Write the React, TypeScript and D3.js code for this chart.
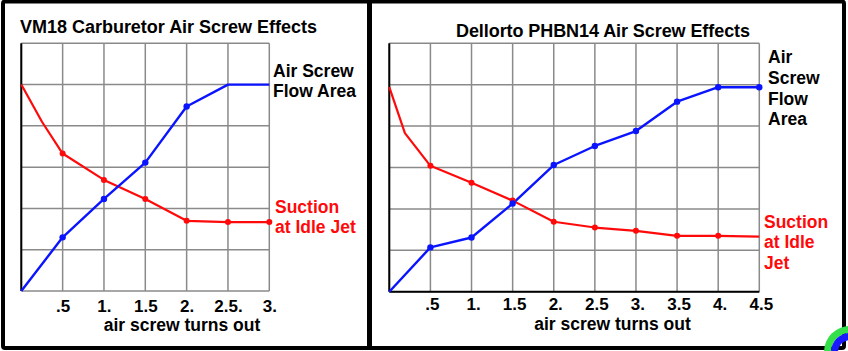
import React from "react";
import * as d3 from "d3";

// ---- Data ----
const leftFlowTurns = [0, 0.5, 1, 1.5, 2, 2.5, 3];
const leftFlowArea = [0, 1.3, 2.23, 3.11, 4.47, 5.0, 5.0];
const leftFlowDots = [0.5, 1, 1.5, 2];
const leftSuctionTurns = [0, 0.25, 0.5, 1, 1.5, 2, 2.5, 3];
const leftSuction = [5.0, 4.1, 3.33, 2.69, 2.23, 1.7, 1.67, 1.67];
const leftSuctionDots = [0.5, 1, 1.5, 2, 2.5, 3];
const leftTickValues = [0.5, 1, 1.5, 2, 2.5, 3];
const leftTickLabels = [".5", "1.", "1.5", "2.", "2.5.", "3."];

const rightFlowTurns = [0, 0.5, 1, 1.5, 2, 2.5, 3, 3.5, 4, 4.5];
const rightFlowArea = [0, 1.07, 1.31, 2.13, 3.06, 3.52, 3.88, 4.59, 4.94, 4.94];
const rightFlowDots = [0.5, 1, 1.5, 2, 2.5, 3, 3.5, 4, 4.5];
const rightSuctionTurns = [0, 0.19, 0.5, 1, 1.5, 2, 2.5, 3, 3.5, 4, 4.5];
const rightSuction = [4.94, 3.83, 3.04, 2.63, 2.2, 1.69, 1.55, 1.47, 1.35, 1.35, 1.33];
const rightSuctionDots = [0.5, 1, 1.5, 2, 2.5, 3, 3.5, 4];
const rightTickValues = [0.5, 1, 1.5, 2, 2.5, 3, 3.5, 4, 4.5];
const rightTickLabels = [".5", "1.", "1.5", "2.", "2.5", "3.", "3.5", "4.", "4.5"];

const FONT = "'Liberation Sans', Arial, sans-serif";
const GRID = "#8a8a8a";
const BLUE = "#0a14ff";
const RED = "#ff0a0a";

type PanelProps = {
  x0: number; x1: number; y0: number; y1: number; xMax: number;
  flowT: number[]; flowV: number[]; flowDots: number[];
  sucT: number[]; sucV: number[]; sucDots: number[];
  ticks: number[]; tickLabels: string[]; tickY: number; tickDx: number;
  blackBottom: boolean;
};

function Panel(p: PanelProps) {
  const x = d3.scaleLinear().domain([0, p.xMax]).range([p.x0, p.x1]);
  const y = d3.scaleLinear().domain([0, 6]).range([p.y0, p.y1]);
  const line = d3.line<[number, number]>().x((d) => x(d[0])).y((d) => y(d[1]));
  const flowPts = p.flowT.map((t, i) => [t, p.flowV[i]] as [number, number]);
  const sucPts = p.sucT.map((t, i) => [t, p.sucV[i]] as [number, number]);
  const valAt = (ts: number[], vs: number[], t: number) => vs[ts.indexOf(t)];
  const xGrid = d3.range(0, p.xMax + 0.001, 0.5);
  const yGrid = d3.range(0, 7, 1);
  return (
    <g>
      {xGrid.map((t) => (
        <line key={"vx" + t} x1={x(t)} x2={x(t)} y1={y(6)} y2={y(0)} stroke={GRID} strokeWidth={1.5} />
      ))}
      {yGrid.map((v) => (
        <line key={"hy" + v} x1={x(0)} x2={x(p.xMax)} y1={y(v)} y2={y(v)} stroke={GRID} strokeWidth={1.5} />
      ))}
      <line x1={x(0)} x2={x(0)} y1={y(6)} y2={y(0)} stroke="#000" strokeWidth={2} />
      {p.blackBottom && (
        <line x1={x(0)} x2={x(p.xMax)} y1={y(0)} y2={y(0)} stroke="#000" strokeWidth={2} />
      )}
      <path d={line(sucPts) || ""} fill="none" stroke={RED} strokeWidth={2.2} strokeLinejoin="round" />
      <path d={line(flowPts) || ""} fill="none" stroke={BLUE} strokeWidth={2.4} strokeLinejoin="round" />
      {p.sucDots.map((t) => (
        <circle key={"sd" + t} cx={x(t)} cy={y(valAt(p.sucT, p.sucV, t))} r={3} fill={RED} />
      ))}
      {p.flowDots.map((t) => (
        <circle key={"fd" + t} cx={x(t)} cy={y(valAt(p.flowT, p.flowV, t))} r={3.2} fill={BLUE} />
      ))}
      {p.ticks.map((t, i) => (
        <text key={"tl" + t} x={x(t) + p.tickDx} y={p.tickY} textAnchor="middle"
          fontFamily={FONT} fontWeight="bold" fontSize={17} fill="#000">
          {p.tickLabels[i]}
        </text>
      ))}
    </g>
  );
}

export default function App() {
  const textProps = { fontFamily: FONT, fontWeight: "bold" as const, fontSize: 17.5 };
  return (
    <svg width={848} height={351} style={{ position: "absolute", left: 0, top: 0, background: "#fff" }}>
      <rect x={0} y={0} width={848} height={351} fill="#fff" />
      {/* borders */}
      <rect x={3} y={1.5} width={841} height={346.5} fill="none" stroke="#000" strokeWidth={4} rx={2} />
      <line x1={369.5} x2={369.5} y1={0} y2={350} stroke="#000" strokeWidth={5} />

      {/* Left panel */}
      <text x={20} y={33} {...textProps} fontSize={18} textLength={297} lengthAdjust="spacing">
        VM18 Carburetor Air Screw Effects
      </text>
      <Panel x0={21.3} x1={269.3} y0={291} y1={43.3} xMax={3}
        flowT={leftFlowTurns} flowV={leftFlowArea} flowDots={leftFlowDots}
        sucT={leftSuctionTurns} sucV={leftSuction} sucDots={leftSuctionDots}
        ticks={leftTickValues} tickLabels={leftTickLabels} tickY={311.5} tickDx={0.5}
        blackBottom={false} />
      <text x={273} y={76.5} {...textProps}>Air Screw</text>
      <text x={273} y={96.5} {...textProps}>Flow Area</text>
      <text x={275} y={213} {...textProps} fill={RED}>Suction</text>
      <text x={275} y={233} {...textProps} fill={RED}>at Idle Jet</text>
      <text x={182} y={331} {...textProps} textAnchor="middle">air screw turns out</text>

      {/* Right panel */}
      <text x={456} y={36.5} {...textProps} fontSize={18} textLength={294} lengthAdjust="spacing">
        Dellorto PHBN14 Air Screw Effects
      </text>
      <Panel x0={389.3} x1={759.3} y0={291.7} y1={43.3} xMax={4.5}
        flowT={rightFlowTurns} flowV={rightFlowArea} flowDots={rightFlowDots}
        sucT={rightSuctionTurns} sucV={rightSuction} sucDots={rightSuctionDots}
        ticks={rightTickValues} tickLabels={rightTickLabels} tickY={310} tickDx={2}
        blackBottom={true} />
      <text x={768} y={63} {...textProps}>Air</text>
      <text x={768} y={84} {...textProps}>Screw</text>
      <text x={768} y={105} {...textProps}>Flow</text>
      <text x={768} y={125} {...textProps}>Area</text>
      <text x={764} y={227.5} {...textProps} fill={RED}>Suction</text>
      <text x={764} y={248} {...textProps} fill={RED}>at Idle</text>
      <text x={764} y={269} {...textProps} fill={RED}>Jet</text>
      <text x={612.5} y={330} {...textProps} textAnchor="middle">air screw turns out</text>

      {/* corner badge */}
      <path d={d3.arc()({ innerRadius: 19, outerRadius: 26, startAngle: -Math.PI / 2, endAngle: 0 }) || ""}
        transform="translate(850,352)" fill="#33e04a" />
      <path d={d3.arc()({ innerRadius: 12, outerRadius: 19, startAngle: -Math.PI / 2, endAngle: 0 }) || ""}
        transform="translate(850,352)" fill="#1a1aff" />
    </svg>
  );
}
